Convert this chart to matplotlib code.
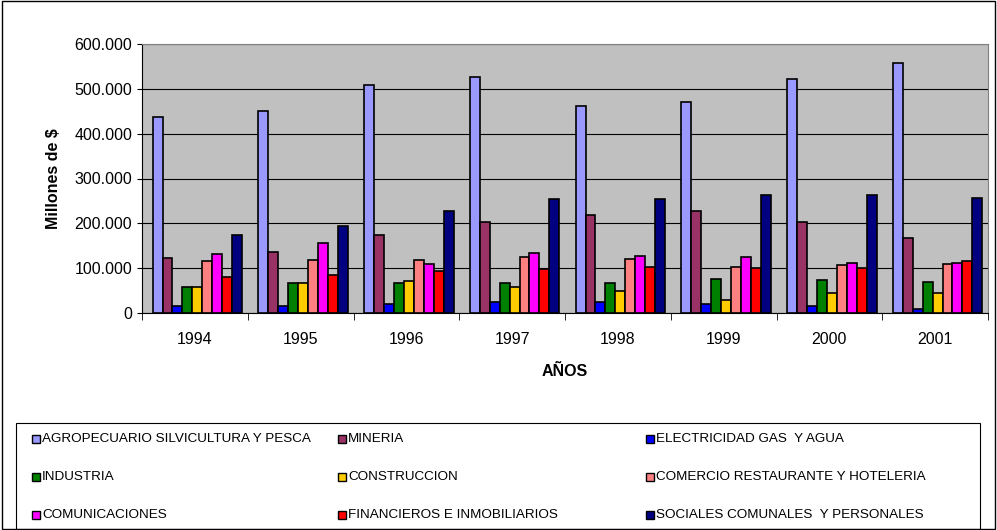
import matplotlib.pyplot as plt
import numpy as np

years = ['1994', '1995', '1996', '1997', '1998', '1999', '2000', '2001']
series = ['AGROPECUARIO SILVICULTURA Y PESCA', 'MINERIA', 'ELECTRICIDAD GAS  Y AGUA',
          'INDUSTRIA', 'CONSTRUCCION', 'COMERCIO RESTAURANTE Y HOTELERIA',
          'COMUNICACIONES', 'FINANCIEROS E INMOBILIARIOS', 'SOCIALES COMUNALES  Y PERSONALES']
agro = [438, 451, 508, 527, 462, 470, 523, 558]
mineria = [123, 137, 175, 203, 219, 227, 204, 167]
electricidad = [15, 15, 20, 25, 25, 20, 15, 10]
industria = [58, 68, 66, 66, 66, 75, 73, 70]
construccion = [58, 66, 72, 57, 48, 28, 45, 44]
comercio = [117, 119, 119, 124, 121, 102, 107, 109]
comunicaciones = [132, 157, 110, 133, 128, 126, 111, 112]
financieros = [80, 85, 93, 98, 102, 101, 100, 117]
sociales = [173, 193, 227, 254, 254, 263, 264, 257]
colors = ['#9999FF', '#993366', '#0000FF', '#008000', '#FFCC00', '#FF8080',
          '#FF00FF', '#FF0000', '#000080']

data = [agro, mineria, electricidad, industria, construccion, comercio,
        comunicaciones, financieros, sociales]

plt.rcParams['font.family'] = ['Liberation Sans', 'DejaVu Sans']
fig = plt.figure(figsize=(9.97, 5.30), dpi=100)
fig.patches.append(plt.Rectangle((0.002, 0.002), 0.996, 0.996, transform=fig.transFigure,
                                 fill=False, edgecolor='black', lw=1))
ax = fig.add_axes([142/997, 1 - 313/530, 846/997, 269/530])
ax.set_facecolor('#C0C0C0')
x = np.arange(len(years))
w = 0.094
for i, vals in enumerate(data):
    ax.bar(x - 0.4 + w * i + w / 2, np.array(vals) * 1000, w, color=colors[i],
           edgecolor='black', linewidth=1.2, zorder=3)
ax.set_xlim(-0.5, 7.5)
ax.set_ylim(0, 600000)
ax.set_yticks(range(0, 600001, 100000))
ax.set_yticklabels(['0', '100.000', '200.000', '300.000', '400.000', '500.000', '600.000'], fontsize=11.5)
ax.set_xticks(x)
ax.set_xticklabels(years, fontsize=11.5)
ax.set_xticks(np.arange(-0.5, 8, 1), minor=True)
ax.tick_params(axis='x', which='major', length=0, pad=14)
ax.tick_params(axis='x', which='minor', length=5)
ax.grid(axis='y', color='black', lw=0.8, zorder=1)
for s in ['top', 'right']:
    ax.spines[s].set_color('#808080')
ax.set_ylabel('Millones de $', fontsize=11.5, fontweight='bold', labelpad=10)
ax.set_xlabel('AÑOS', fontsize=11.5, fontweight='bold', labelpad=12)

# legend box, row-wise like the reference
fig.patches.append(plt.Rectangle((16/997, 0.002), 964/997, 106/530, transform=fig.transFigure,
                                 fill=False, edgecolor='black', lw=0.8))
col_x = [32/997, 338/997, 646/997]
row_y = [1 - 439/530, 1 - 477/530, 1 - 515/530]
for i, name in enumerate(series):
    cx = col_x[i % 3]
    cy = row_y[i // 3]
    fig.patches.append(plt.Rectangle((cx, cy - 4/530), 8/997, 8/530, transform=fig.transFigure,
                                     facecolor=colors[i], edgecolor='black', lw=1))
    fig.text(cx + 10/997, cy, name, fontsize=9.7, va='center', ha='left')
fig.savefig('out.png')
